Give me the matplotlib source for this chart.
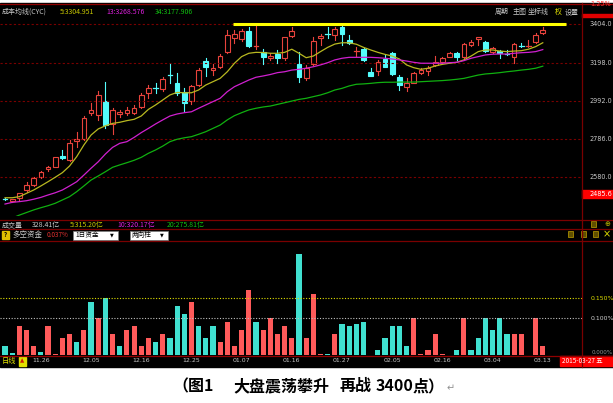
import matplotlib
matplotlib.use("Agg")
import matplotlib.pyplot as plt
from matplotlib.patches import Rectangle
from matplotlib.lines import Line2D

plt.rcParams['font.family'] = ['Noto Sans CJK SC', 'DejaVu Sans']

# ---- data (SSE daily, 2014-11-19 .. 2015-03-13) ----
tick_idx = [5, 12, 19, 26, 33, 40, 47, 54, 61, 68, 75]
tick_lab = ["11.26", "12.05", "12.16", "12.25", "01.07", "01.16", "01.27", "02.05", "02.16", "03.04", "03.13"]
opens = [2460, 2449, 2462, 2507, 2534, 2576, 2619, 2633, 2693, 2669, 2771, 2782, 2926, 2914, 2991, 2865,
         2919, 2926, 2923, 2958, 3031, 3063, 3053, 3132, 3085, 3040, 2991, 3076, 3208, 3157, 3172, 3257,
         3332, 3324, 3370, 3283, 3257, 3221, 3242, 3221, 3343, 3188, 3112, 3190, 3329, 3354, 3347, 3389,
         3320, 3255, 3270, 3148, 3154, 3215, 3248, 3118, 3064, 3089, 3143, 3154, 3184, 3202, 3230, 3251,
         3226, 3293, 3324, 3311, 3257, 3262, 3246, 3226, 3289, 3285, 3311, 3356]
highs = [2463, 2458, 2491, 2552, 2575, 2608, 2637, 2688, 2724, 2778, 2823, 2908, 2980, 3045, 3094, 2950,
         2941, 2958, 2968, 3033, 3076, 3088, 3121, 3190, 3140, 3058, 3076, 3166, 3221, 3190, 3244, 3374,
         3374, 3378, 3392, 3396, 3270, 3248, 3266, 3338, 3392, 3257, 3185, 3338, 3352, 3389, 3389, 3401,
         3347, 3280, 3275, 3166, 3212, 3239, 3257, 3130, 3112, 3148, 3166, 3179, 3233, 3230, 3257, 3253,
         3302, 3320, 3338, 3316, 3284, 3266, 3266, 3302, 3305, 3320, 3356, 3389]
lows = [2453, 2442, 2452, 2498, 2530, 2573, 2612, 2630, 2673, 2665, 2738, 2778, 2914, 2887, 2841, 2810,
        2905, 2914, 2918, 2950, 3004, 3034, 3045, 3088, 3022, 2937, 2973, 3071, 3125, 3130, 3166, 3248,
        3302, 3316, 3284, 3271, 3190, 3212, 3194, 3212, 3338, 3094, 3103, 3185, 3293, 3329, 3320, 3293,
        3298, 3233, 3208, 3125, 3130, 3172, 3130, 3049, 3045, 3085, 3136, 3130, 3179, 3194, 3226, 3212,
        3216, 3288, 3293, 3257, 3251, 3221, 3239, 3197, 3280, 3280, 3302, 3352]
closes = [2456, 2456, 2489, 2534, 2570, 2603, 2633, 2684, 2682, 2763, 2782, 2899, 2941, 3022, 2859, 2941,
          2931, 2941, 2953, 3022, 3058, 3061, 3109, 3128, 3034, 2977, 3071, 3157, 3172, 3166, 3233, 3347,
          3351, 3370, 3289, 3286, 3230, 3233, 3224, 3335, 3370, 3118, 3166, 3316, 3342, 3350, 3378, 3352,
          3306, 3259, 3212, 3127, 3203, 3175, 3136, 3076, 3085, 3139, 3157, 3170, 3202, 3220, 3248, 3226,
          3298, 3311, 3335, 3262, 3278, 3248, 3242, 3298, 3286, 3290, 3347, 3373]
ma5 = [2465, 2465, 2471, 2489, 2507, 2529, 2552, 2576, 2601, 2637, 2688, 2751, 2805, 2838, 2855, 2868,
       2874, 2883, 2890, 2908, 2944, 2968, 2995, 3022, 3036, 3034, 3034, 3049, 3076, 3094, 3112, 3148,
       3194, 3230, 3248, 3253, 3252, 3248, 3248, 3253, 3270, 3248, 3224, 3233, 3257, 3280, 3298, 3305,
       3305, 3297, 3280, 3266, 3253, 3242, 3233, 3217, 3185, 3170, 3161, 3167, 3179, 3188, 3194, 3199,
       3212, 3233, 3257, 3266, 3266, 3260, 3257, 3260, 3262, 3270, 3284, 3305]
ma13 = [2431, 2440, 2444, 2449, 2457, 2467, 2480, 2492, 2507, 2529, 2552, 2588, 2625, 2660, 2702, 2738,
        2760, 2769, 2792, 2818, 2841, 2865, 2887, 2908, 2919, 2926, 2931, 2950, 2968, 2986, 3004, 3040,
        3067, 3085, 3103, 3118, 3125, 3133, 3143, 3148, 3157, 3161, 3167, 3175, 3185, 3197, 3212, 3221,
        3226, 3226, 3226, 3226, 3224, 3221, 3217, 3212, 3206, 3199, 3194, 3194, 3194, 3194, 3197, 3199,
        3208, 3221, 3230, 3239, 3243, 3244, 3244, 3248, 3251, 3253, 3257, 3268]
ma34 = [2334, 2355, 2371, 2385, 2399, 2411, 2422, 2435, 2453, 2471, 2498, 2529, 2561, 2583, 2606, 2630,
        2643, 2655, 2668, 2684, 2706, 2724, 2745, 2769, 2782, 2790, 2796, 2809, 2823, 2841, 2859, 2887,
        2910, 2926, 2941, 2950, 2957, 2962, 2971, 2980, 2989, 2998, 3004, 3013, 3022, 3034, 3049, 3058,
        3071, 3080, 3082, 3085, 3089, 3091, 3091, 3092, 3092, 3092, 3094, 3096, 3098, 3100, 3103, 3107,
        3112, 3121, 3130, 3136, 3139, 3143, 3148, 3152, 3157, 3161, 3167, 3178]
# 多空资金 bars (%), and whether the bar is red (inflow) or cyan
flow = [0.030, 0.012, 0.080, 0.070, 0.030, 0.015, 0.080, 0.010, 0.050, 0.060, 0.040, 0.070, 0.140, 0.100,
        0.150, 0.060, 0.030, 0.070, 0.080, 0.030, 0.050, 0.040, 0.060, 0.050, 0.130, 0.110, 0.140, 0.080,
        0.050, 0.080, 0.040, 0.090, 0.030, 0.070, 0.170, 0.090, 0.070, 0.100, 0.060, 0.080, 0.050, 0.260,
        0.050, 0.160, 0.010, 0.010, 0.060, 0.085, 0.080, 0.085, 0.090, 0.005, 0.020, 0.050, 0.080, 0.080,
        0.030, 0.100, 0.010, 0.020, 0.060, 0.010, 0.003, 0.020, 0.100, 0.020, 0.050, 0.100, 0.070, 0.100,
        0.060, 0.060, 0.060, 0.003, 0.100, 0.030]
flow_red = [0, 0, 1, 1, 1, 0, 1, 1, 1, 1, 0, 1, 0, 1, 0, 1, 0, 1, 1, 1, 1, 0, 1, 0, 0, 0, 1, 0, 0, 0, 1, 1,
            1, 1, 1, 0, 1, 1, 1, 1, 1, 0, 1, 1, 1, 0, 1, 0, 0, 0, 0, 1, 0, 0, 0, 0, 0, 1, 1, 1, 1, 1, 1, 0,
            1, 0, 0, 0, 0, 0, 0, 1, 1, 1, 1, 1]
grid_prices = [3404.0, 3198.0, 2992.0, 2786.0, 2580.0]
resist_x, resist_y = [31.8, 78.2], 3404
ref_lines = [0.150, 0.100]

W, H = 613, 403
RED, CYAN, GRID = "#e8433c", "#54fcfc", "#7a0000"
SMALL = 5.0
fx = lambda x: x / W
fy = lambda y: 1 - y / H


def ftext(x, y, s, c="#c8c8c8", size=SMALL, **kw):
    fig.text(fx(x), fy(y), s, color=c, fontsize=size, va="center", **kw)


def fline(x0, x1, y0, y1, c=GRID, lw=0.9, **kw):
    fig.add_artist(Line2D([fx(x0), fx(x1)], [fy(y0), fy(y1)], color=c, lw=lw, **kw))


def frect(x0, y0, x1, y1, **kw):
    fig.add_artist(Rectangle((fx(x0), fy(y1)), fx(x1) - fx(x0), fy(y0) - fy(y1), **kw))


def px_axes(x0, y0, x1, y1):
    a = fig.add_axes([fx(x0), fy(y1), fx(x1) - fx(x0), fy(y0) - fy(y1)])
    a.set_facecolor("none"); a.axis("off")
    return a


fig = plt.figure(figsize=(W / 100, H / 100), dpi=100, facecolor="white")
frect(0, 3, W, 367, color="black", zorder=0)

# ---- price panel ----
ax = px_axes(0, 18, 582, 216)
ax.set_xlim(-0.70, 80.47); ax.set_ylim(2366.1, 3439.2)
for p in grid_prices:
    ax.axhline(p, color=GRID, lw=0.8, ls=(0, (2, 2)))
n = len(closes)
for i in range(n):
    o, h, l, c = opens[i], highs[i], lows[i], closes[i]
    up = c >= o
    col = RED if up else CYAN
    top, bot = max(o, c), min(o, c)
    ax.plot([i, i], [top, h], color=col, lw=0.8)
    ax.plot([i, i], [l, bot], color=col, lw=0.8)
    if top - bot < 6:
        ax.plot([i - 0.33, i + 0.33], [c, c], color=col, lw=0.9)
    else:
        ax.add_patch(Rectangle((i - 0.33, bot), 0.66, top - bot, facecolor="black" if up else CYAN,
                               edgecolor=col, lw=0.8))
xs = list(range(n))
ax.plot(xs, ma5, color="#b8b820", lw=0.9)
ax.plot(xs, ma13, color="#d020d0", lw=0.9)
ax.plot(xs, ma34, color="#10b010", lw=0.9)
ax.plot(resist_x, [resist_y] * 2, color="#ffff00", lw=2.2, solid_capstyle="butt", clip_on=False)

# header of price panel
ftext(2, 12, "成本均线(CYC)")
ftext(60, 12, "5:3304.951", c="#c8c800")
ftext(106, 12, "13:3268.576", c="#e020e0")
ftext(155, 12, "34:3177.906", c="#10c010")
for x, s, c in [(495, "周期", "#c8c8c8"), (513, "主图", "#c8c8c8"), (528, "坐标线", "#c8c8c8"),
                (555, "权", "#e0e000"), (565, "设置", "#c8c8c8")]:
    ftext(x, 12, s, c=c)

# right price scale
for p in grid_prices:
    ftext(589, 24.5 + (3404 - p) / 5.42, f"{p:.1f}", size=4.7, family="DejaVu Sans")
frect(582, 14.5, W, 17, color="#e00000")
ftext(590, 4, "1.25%", c="#ff3030", size=4.7, family="DejaVu Sans")
frect(582, 189.5, W, 198, color="#ff0000")
ftext(589, 194, "2485.6", c="white", size=4.7, family="DejaVu Sans")

# ---- volume / fund flow headers ----
for y in (220, 229, 241):
    fline(0, W, y, y)
ftext(2, 225, "成交量")
ftext(32, 225, "328.41亿")
ftext(70, 225, "5:315.20亿", c="#c8c800")
ftext(117, 225, "10:320.17亿", c="#e020e0")
ftext(167, 225, "20:275.81亿", c="#10c010")
frect(2, 231, 9, 239, color="#e0c000")
ftext(3.5, 235, "?", c="black", size=4.5, weight="bold")
ftext(12, 235, "多空资金", size=5.4)
ftext(47, 235, "0.037%", c="#e03030", size=4.6)
for x0, x1, s in [(73, 118, "1日资金"), (130, 168, "两向柱")]:
    frect(x0, 230.5, x1, 239.5, facecolor="white", edgecolor="#808080", lw=0.5)
    ftext(x0 + 2, 235, s, c="black", size=4.8)
    ftext(x1 - 8, 235, "▼", c="black", size=3.5, family="DejaVu Sans")
for x, y in [(593, 224), (570, 234), (583, 234), (595, 234)]:
    frect(x - 2.5, y - 3, x + 2.5, y + 3, facecolor="#605000", edgecolor="#c0a000", lw=0.5)
ftext(607, 224, "⊕", c="#c0c000", size=5, ha="center", family="DejaVu Sans")
ftext(607, 234, "×", c="#e0e000", size=7, ha="center", family="DejaVu Sans")

# ---- fund-flow bars ----
ax2 = px_axes(0, 242, 582, 355)
ax2.set_xlim(-0.70, 80.47); ax2.set_ylim(0.0075, 0.29)
ax2.bar(xs, flow, width=0.72, color=[("#ff5a5a" if r else "#40e0d0") for r in flow_red])
ax2.axhline(ref_lines[0], color="#e0e000", lw=0.8, ls=(0, (1, 1.5)))
ax2.axhline(ref_lines[1], color="#c0c0c0", lw=0.8, ls=(0, (1, 1.5)))
ftext(591, 298, "0.150%", c="#e0e000", size=4.4, family="DejaVu Sans")
ftext(591, 318, "0.100%", c="#d0d0d0", size=4.4, family="DejaVu Sans")
ftext(592, 353, "0.000%", c="#909090", size=4.1, family="DejaVu Sans")

# ---- date row ----
fline(0, W, 355.5, 355.5, c="#900000")
ftext(2, 361, "日线", c="#e0e000", size=5.2)
frect(19, 356.5, 26, 365.5, color="#e0e000")
ftext(22.5, 361, "▲", c="#d02000", size=4, ha="center", family="DejaVu Sans")
for i, s in zip(tick_idx, tick_lab):
    ftext(5 + 7.17 * i, 361, s, size=4.5, ha="center", family="DejaVu Sans")
frect(560, 356, W, 366, color="#ff0000")
ftext(562, 361, "2015-03-27 五", c="white", size=4.6)
fline(582, 582, 3, 367)
fline(0, W, 3.5, 3.5, c="#900000")

# ---- caption ----
for x, s in [(172, "（图1"), (233, "大盘震荡攀升"), (340, "再战"), (376, "3400"), (413, "点）")]:
    ftext(x, 386, s, c="black", size=11.5, weight="bold")
ftext(447, 388, "↵", c="#909090", size=7, family="DejaVu Sans")

fig.savefig("out.png", dpi=100)
